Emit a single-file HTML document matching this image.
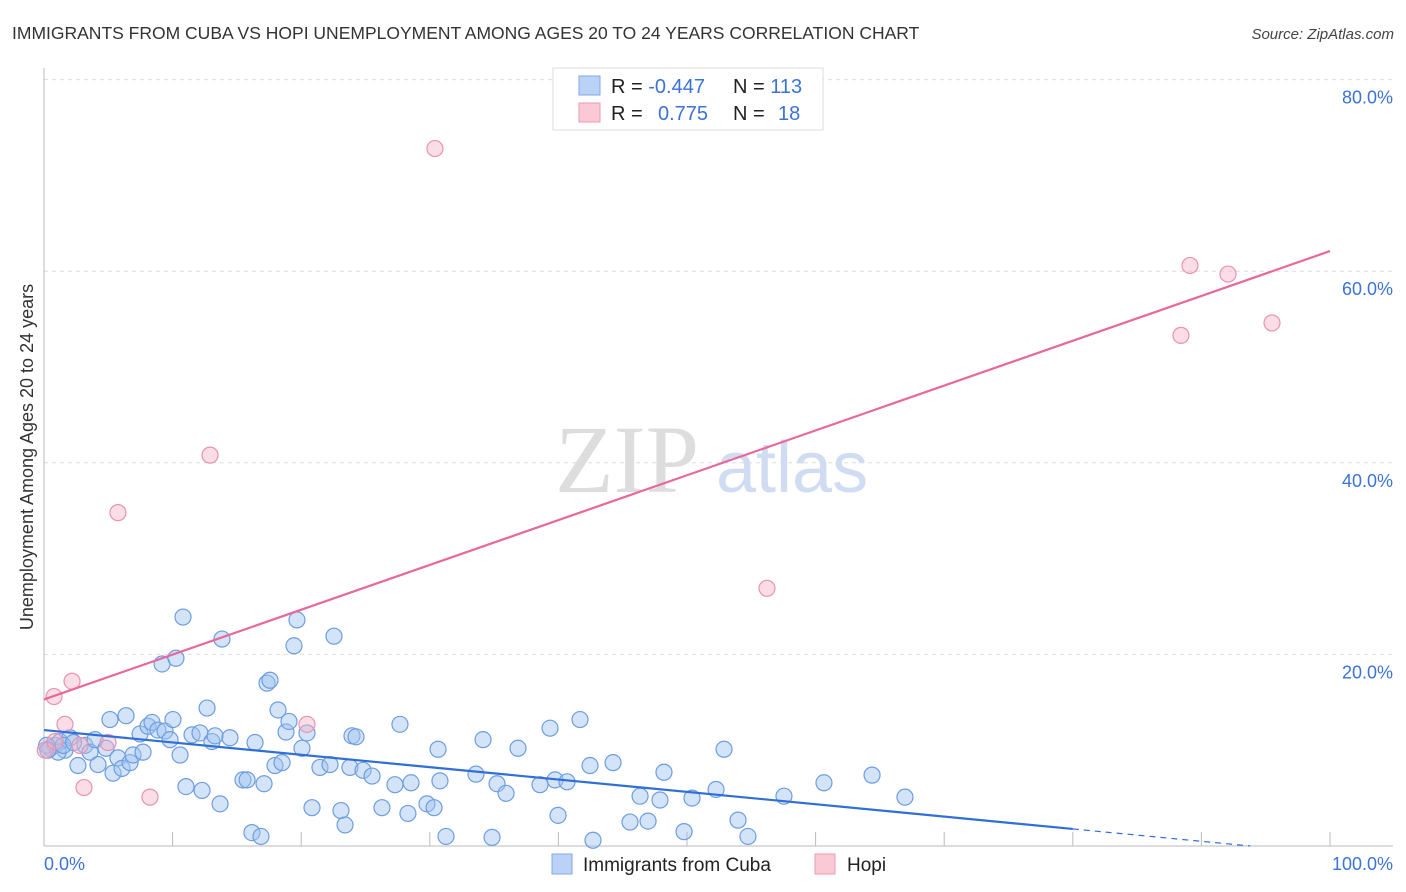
<!DOCTYPE html>
<html><head><meta charset="utf-8">
<style>
body{margin:0;background:#fff;font-family:"Liberation Sans",sans-serif;}
svg{display:block}
</style></head>
<body>
<svg id="chart" width="1406" height="892" xmlns="http://www.w3.org/2000/svg" font-family="Liberation Sans, sans-serif">
<text x="12" y="39" font-size="17.5" fill="#333">IMMIGRANTS FROM CUBA VS HOPI UNEMPLOYMENT AMONG AGES 20 TO 24 YEARS CORRELATION CHART</text>
<text x="1394" y="39" font-size="15" fill="#444" text-anchor="end" font-style="italic">Source: ZipAtlas.com</text>
<g id="grid"></g>
<g>
<text x="555" y="492" font-family="Liberation Serif, serif" font-size="96" fill="#ddd">ZIP</text>
<text x="716" y="492" font-size="72" fill="#cfdcf2">atlas</text>
</g>
<line x1="44" y1="68" x2="44" y2="846" stroke="#bbb"/>
<line x1="44" y1="846" x2="1393" y2="846" stroke="#bbb"/>
<g id="ticks"></g>
<g id="ylabels"></g>
<text x="44" y="870" font-size="18" fill="#3b73d6">0.0%</text>
<text x="1393" y="870" font-size="18" fill="#3b73d6" text-anchor="end">100.0%</text>
<text transform="translate(33,457) rotate(-90)" font-size="18" fill="#333" text-anchor="middle">Unemployment Among Ages 20 to 24 years</text>
<g id="pts"></g>
<g id="trends"></g>
<g>
<rect x="553" y="68" width="270" height="62" fill="#fff" stroke="#ddd"/>
<rect x="579" y="76" width="21" height="19" fill="#b9d2f5" stroke="#7ea8e6"/>
<rect x="579" y="103" width="21" height="19" fill="#fbc8d6" stroke="#eb9ab3"/>
<text x="611" y="93" font-size="20" fill="#222">R = <tspan fill="#3b73d6">-0.447</tspan></text>
<text x="733" y="93" font-size="20" fill="#222">N = <tspan fill="#3b73d6">113</tspan></text>
<text x="611" y="120" font-size="20" fill="#222">R = </text>
<text x="658" y="120" font-size="20" fill="#3b73d6">0.775</text>
<text x="733" y="120" font-size="20" fill="#222">N = </text>
<text x="778" y="120" font-size="20" fill="#3b73d6">18</text>
</g>
<g>
<rect x="552" y="854" width="20" height="20" fill="#b9d2f5" stroke="#7ea8e6"/>
<text x="583" y="871" font-size="19" fill="#222">Immigrants from Cuba</text>
<rect x="815" y="854" width="20" height="20" fill="#fbc8d6" stroke="#eb9ab3"/>
<text x="847" y="871" font-size="19" fill="#222">Hopi</text>
</g>
</svg>
<script>
const yTicks=[20,40,60,80];
const yTickLabels=["20.0%","40.0%","60.0%","80.0%"];
const xTicks=[0,10,20,30,40,50,60,70,80,90,100];
const cubaX=[0.47,0.86,1.24,1.63,2.02,2.64,3.19,3.58,3.97,4.2,4.82,5.13,5.37,5.75,6.07,6.38,6.69,6.92,7.47,7.7,8.09,8.4,8.86,9.18,9.41,9.8,10.03,10.26,10.58,10.81,11.04,11.51,12.13,12.29,12.68,13.06,13.3,13.69,13.84,14.46,15.47,15.79,16.17,16.41,16.87,17.11,17.34,17.57,17.96,18.2,18.51,18.82,19.05,19.44,19.67,20.06,20.45,20.84,21.46,22.24,22.55,23.09,23.41,23.79,23.95,24.26,24.81,25.51,26.28,27.29,27.68,28.3,28.54,29.78,30.33,30.64,30.79,31.26,33.59,34.14,34.84,35.23,35.93,36.86,38.57,39.35,39.74,39.97,40.67,41.68,42.46,42.69,44.25,45.57,46.35,46.97,47.9,48.21,49.77,50.39,52.26,52.88,53.97,54.74,57.54,60.65,64.39,66.95,0.2,1.1,1.5,0.3,2.3];
const cubaY=[10.2,10.5,10.9,10.0,11.3,8.4,10.5,9.8,11.1,8.5,10.2,13.2,7.6,9.2,8.1,13.6,8.7,9.5,11.7,9.8,12.5,12.9,12.1,19.0,12.0,11.1,13.2,19.6,9.5,23.9,6.2,11.6,11.8,5.8,14.4,10.9,11.5,4.4,21.6,11.3,6.9,6.9,1.4,10.8,1.0,6.5,17.0,17.3,8.4,14.2,8.7,11.9,13.0,20.9,23.6,10.2,11.8,4.0,8.2,8.5,21.9,3.7,2.2,8.2,11.5,11.4,7.9,7.3,4.0,6.4,12.7,3.4,6.6,4.4,4.0,10.1,6.8,1.0,7.5,11.1,0.9,6.5,5.5,10.2,6.4,12.3,6.9,3.2,6.7,13.2,8.4,0.6,8.7,2.5,5.2,2.6,4.8,7.7,1.5,5.0,5.9,10.1,2.7,1.0,5.2,6.6,7.4,5.1,10.5,9.8,10.5,10.0,10.8];
const hopiX=[0.78,1.63,2.18,3.11,4.98,5.75,8.24,12.91,20.45,30.4,56.22,89.11,92.07,88.41,95.49,0.1,0.86,2.8];
const hopiY=[15.6,12.7,17.2,6.1,10.8,34.8,5.1,40.8,12.7,72.8,26.9,60.6,59.7,53.3,54.6,10.0,10.9,10.5];
const cubaTrend=[12.1,-0.129];
const hopiTrend=[15.3,0.468];
const NS="http://www.w3.org/2000/svg";
const sx=v=>44+v*12.86, sy=v=>846-v*9.58;
function mk(t,a,p){const e=document.createElementNS(NS,t);for(const k in a)e.setAttribute(k,a[k]);p.appendChild(e);return e;}
const grid=document.getElementById('grid'),yl=document.getElementById('ylabels'),tk=document.getElementById('ticks');
yTicks.forEach((v,i)=>{
 const l=mk('line',{x1:44,x2:1393,y1:sy(v),y2:sy(v),stroke:'#ddd','stroke-dasharray':'4,4'},grid);
 
 
 const t=mk('text',{x:1393,y:sy(v)+24,'font-size':18,fill:'#3b73d6','text-anchor':'end'},yl);
 t.textContent=yTickLabels[i];
 
 
});
xTicks.forEach(v=>{
 const l=mk('line',{x1:sx(v),x2:sx(v),y1:832,y2:846,stroke:'#bbb'},tk);
 
 
});
const pts=document.getElementById('pts');
cubaX.forEach((x,i)=>{
 const c=mk('circle',{cx:sx(x),cy:sy(cubaY[i]),r:8,fill:'rgba(160,195,240,0.45)',stroke:'#6d9de0','stroke-width':1.2},pts);
 
 
});
hopiX.forEach((x,i)=>{
 const c=mk('circle',{cx:sx(x),cy:sy(hopiY[i]),r:8,fill:'rgba(245,180,200,0.45)',stroke:'#e893b0','stroke-width':1.2},pts);
 
 
});
const tr=document.getElementById('trends');
const cf=x=>cubaTrend[0]+cubaTrend[1]*x;
let l1=mk('line',{x1:sx(0),y1:sy(cf(0)),x2:sx(80),y2:sy(cf(80)),stroke:'#2f6fd6','stroke-width':2.2},tr);


const xEnd=Math.min(100,-cubaTrend[0]/cubaTrend[1]);
let l2=mk('line',{x1:sx(80),y1:sy(cf(80)),x2:sx(xEnd),y2:sy(cf(xEnd)),stroke:'#2f6fd6','stroke-width':1.2,'stroke-dasharray':'6,5'},tr);


const hf=x=>hopiTrend[0]+hopiTrend[1]*x;
let l3=mk('line',{x1:sx(0),y1:sy(hf(0)),x2:sx(100),y2:sy(hf(100)),stroke:'#e8689a','stroke-width':2.2},tr);


</script>
</body></html>
